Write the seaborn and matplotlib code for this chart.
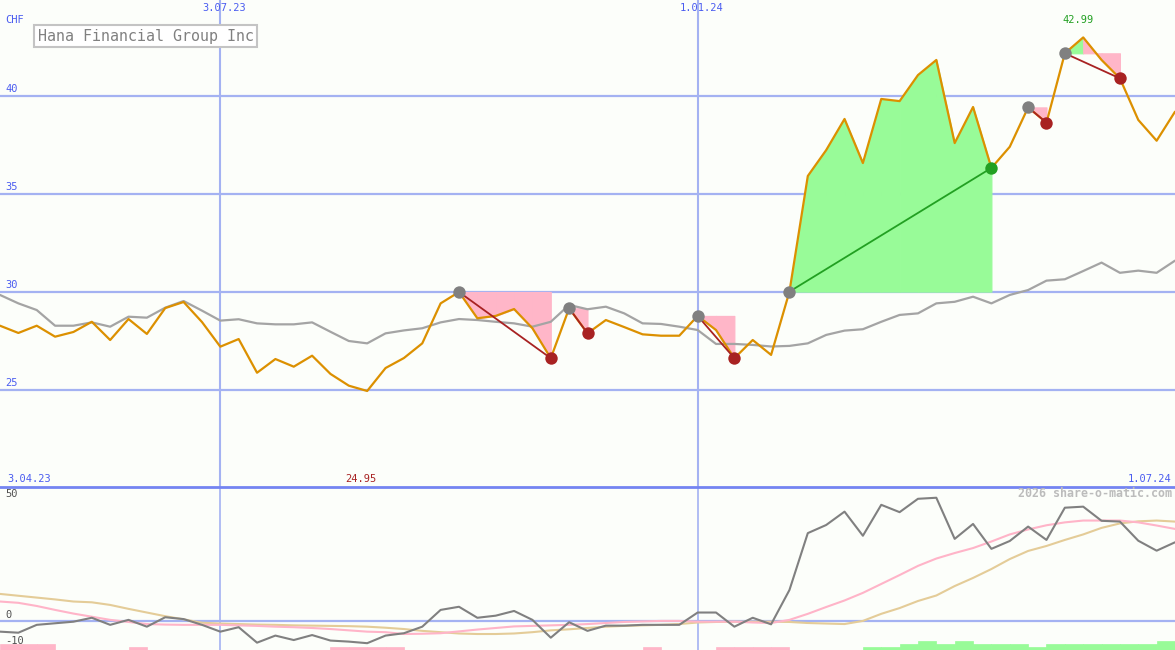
import numpy as np
import pandas as pd
import matplotlib
matplotlib.use('Agg')
import matplotlib.pyplot as plt
import seaborn as sns

# weekly closing prices (CHF), 3.04.23 .. 1.07.24
price = [28.28, 27.91, 28.28, 27.72, 27.96, 28.48, 27.55, 28.62, 27.86, 29.18,
         29.49, 28.47, 27.21, 27.60, 25.88, 26.58, 26.19, 26.75, 25.82, 25.22,
         24.95, 26.12, 26.63, 27.38, 29.42, 30.00, 28.66, 28.78, 29.13, 28.15,
         26.62, 29.17, 27.89, 28.57, 28.21, 27.84, 27.77, 27.77, 28.78, 28.06,
         26.62, 27.55, 26.79, 30.02, 35.92, 37.24, 38.83, 36.58, 39.85, 39.74,
         41.07, 41.84, 37.60, 39.44, 36.33, 37.41, 39.42, 38.64, 42.18, 42.99,
         41.84, 40.90, 38.78, 37.72, 39.20]
# moving average
avg = [29.85, 29.42, 29.08, 28.28, 28.28, 28.45, 28.23, 28.74, 28.69, 29.20,
       29.54, 29.05, 28.54, 28.61, 28.40, 28.35, 28.35, 28.45, 27.97, 27.50,
       27.38, 27.89, 28.04, 28.15, 28.45, 28.62, 28.57, 28.48, 28.40, 28.23,
       28.48, 29.34, 29.12, 29.25, 28.91, 28.40, 28.37, 28.23, 28.06, 27.35,
       27.35, 27.30, 27.22, 27.25, 27.38, 27.81, 28.03, 28.10, 28.48, 28.83,
       28.91, 29.42, 29.50, 29.76, 29.42, 29.85, 30.10, 30.58, 30.65, 31.07,
       31.50, 30.98, 31.09, 30.98, 31.60]

# lower indicator panel
osc = [-4.2, -4.6, -1.6, -1.0, -0.4, 1.1, -1.6, 0.3, -2.3, 1.3,
       0.6, -1.6, -4.2, -2.5, -8.4, -5.7, -7.4, -5.5, -7.6, -8.0,
       -8.6, -5.7, -4.8, -2.3, 4.1, 5.3, 1.1, 1.9, 3.7, 0.3,
       -6.5, -0.6, -3.9, -1.9, -1.9, -1.6, -1.6, -1.6, 3.1, 3.1,
       -2.3, 1.1, -1.4, 11.7, 33.4, 36.5, 41.6, 32.4, 44.2, 41.4,
       46.5, 46.9, 31.2, 36.9, 27.4, 30.4, 35.9, 30.8, 43.1, 43.5,
       38.1, 37.8, 30.5, 26.7, 29.9]
fast = [7.3, 6.8, 5.6, 4.1, 2.7, 1.5, 0.3, -0.5, -1.3, -1.5,
        -1.6, -1.6, -1.6, -1.8, -2.0, -2.3, -2.5, -2.8, -3.2, -3.7,
        -4.2, -4.4, -5.1, -5.0, -4.8, -4.1, -3.4, -2.8, -2.2, -2.0,
        -1.8, -1.6, -1.3, -0.9, -0.5, -0.3, -0.1, -0.1, -0.4, -0.4,
        -0.4, -0.7, -0.9, 0.3, 2.6, 5.2, 7.7, 10.6, 14.0, 17.4,
        20.9, 23.7, 25.8, 27.7, 30.2, 32.9, 34.8, 36.4, 37.5, 38.2,
        38.2, 38.2, 37.5, 36.3, 35.0]
slow = [10.2, 9.5, 8.8, 8.1, 7.3, 7.0, 6.0, 4.5, 3.1, 1.7,
        0.5, -0.8, -1.1, -1.3, -1.5, -1.6, -1.8, -1.9, -2.0, -2.1,
        -2.3, -2.7, -3.2, -3.9, -4.4, -4.9, -5.1, -5.1, -4.9, -4.4,
        -3.7, -3.3, -2.8, -2.3, -2.0, -1.8, -1.6, -1.3, -0.7, -0.5,
        -0.4, -0.4, -0.4, -0.5, -0.9, -1.1, -1.3, -0.1, 2.6, 4.8,
        7.5, 9.6, 13.2, 16.3, 19.7, 23.5, 26.6, 28.5, 30.8, 32.9,
        35.4, 37.1, 37.9, 38.2, 37.8]
# weekly signal bars (green > 0, pink < 0)
signal = [-2.3, -2.3, -2.3, 0, 0, 0, 0, -1.25, 0, 0,
          0, 0, 0, 0, 0, 0, 0, 0, -1.0, -1.0,
          -1.0, -1.0, 0, 0, 0, 0, 0, 0, 0, 0,
          0, 0, 0, 0, 0, -1.25, 0, 0, 0, -1.0,
          -1.0, -1.0, -1.0, 0, 0, 0, 0, 1.0, 1.0, 2.3,
          3.4, 2.3, 3.4, 2.3, 2.3, 2.3, 1.0, 2.3, 2.3, 2.3,
          2.3, 2.3, 2.3, 3.4]

# trades: entry week, exit week
entries = [25, 31, 38, 43, 56, 58]
exits = [30, 32, 40, 54, 57, 61]

date_ticks = [12, 38]
date_labels = ['3.07.23', '1.01.24']
price_levels = [25, 30, 35, 40]

weeks = np.arange(len(price))
df = pd.DataFrame({'week': weeks, 'price': price, 'avg': avg,
                   'osc': osc, 'fast': fast, 'slow': slow})

BG = '#fcfefa'
GRID = '#a4b2f2'
BLUE = '#4a5cf0'
ORANGE = '#dc9000'
PINK = '#ffb6c8'
GREEN = '#98fb98'
RED = '#a82222'
DGREEN = '#22a022'

sns.set_style('white')
plt.rcParams['font.family'] = ['DejaVu Sans Mono']

fig = plt.figure(figsize=(11.75, 6.5), dpi=100, facecolor=BG)
ax1 = fig.add_axes([0, 163 / 650, 1, 487 / 650], facecolor=BG)
ax2 = fig.add_axes([0, 0, 1, 163 / 650], facecolor=BG)

# ---- price panel
for lv in price_levels:
    ax1.axhline(lv, color=GRID, lw=1.6, zorder=1)
    ax1.text(0.27, lv + 0.12, str(lv), color=BLUE, fontsize=7.5, va='bottom', ha='left')
for t in date_ticks:
    ax1.axvline(t, color=GRID, lw=1.5, zorder=1)
    ax2.axvline(t, color=GRID, lw=1.2, zorder=1)

for a, b in zip(entries, exits):
    lvl = price[a]
    for k in range(a, b):
        c = GREEN if price[k + 1] >= lvl else PINK
        ax1.fill_between(weeks[k:k + 2], lvl, price[k:k + 2], facecolor=c,
                         edgecolor=c, lw=0.8, zorder=2)

sns.lineplot(data=df, x='week', y='avg', ax=ax1, color='#a4a4a4', lw=1.6, zorder=3)
sns.lineplot(data=df, x='week', y='price', ax=ax1, color=ORANGE, lw=1.6, zorder=4)

for a, b in zip(entries, exits):
    win = price[b] > price[a]
    ax1.plot([a, b], [price[a], price[b]], color=DGREEN if win else RED, lw=1.3, zorder=5)
    sns.scatterplot(x=[a], y=[price[a]], ax=ax1, color='#808080', s=80, linewidth=0, zorder=6)
    sns.scatterplot(x=[b], y=[price[b]], ax=ax1, color=DGREEN if win else RED, s=80,
                    linewidth=0, zorder=6)

imax = int(np.argmax(price))
imin = int(np.argmin(price))
ax1.text(imax - 0.3, 43.9, f'{price[imax]:.2f}', color=DGREEN, fontsize=7.5, ha='center', va='center')
ax1.text(imin - 0.35, 20.46, f'{price[imin]:.2f}', color=RED, fontsize=7.5, ha='center', va='center')
ax1.text(0.4, 20.46, '3.04.23', color=BLUE, fontsize=7.5, ha='left', va='center')
ax1.text(63.8, 20.46, '1.07.24', color=BLUE, fontsize=7.5, ha='right', va='center')
for t, lab in zip(date_ticks, date_labels):
    ax1.text(t + 0.2, 44.48, lab, color=BLUE, fontsize=7.5, ha='center', va='center')
ax1.text(0.27, 43.88, 'CHF', color=BLUE, fontsize=7.5, ha='left', va='center')
ax1.text(2.05, 43.06, 'Hana Financial Group Inc', color='#808080', fontsize=10.8,
         ha='left', va='center',
         bbox=dict(boxstyle='square,pad=0.25', fc='white', ec='#c4c4c4', lw=1.5))

ax1.set_xlim(0, 64)
ax1.set_ylim(20.05, 44.9)

# ---- indicator panel
ax2.axhline(0, color=GRID, lw=1.6, zorder=1)
bar_col = [GREEN if s > 0 else PINK for s in signal]
ax2.bar(weeks[:-1], np.abs(signal), width=1.0, align='edge', bottom=-11.2,
        color=bar_col, edgecolor=bar_col, lw=0.5, zorder=2)
sns.lineplot(data=df, x='week', y='slow', ax=ax2, color='#e4cc98', lw=1.5, zorder=3)
sns.lineplot(data=df, x='week', y='fast', ax=ax2, color='#ffb4c8', lw=1.5, zorder=3)
sns.lineplot(data=df, x='week', y='osc', ax=ax2, color='#808080', lw=1.5, zorder=4)
ax2.text(0.27, 48.5, '50', color='#505050', fontsize=7.5, ha='left', va='center')
ax2.text(0.27, 2.2, '0', color='#505050', fontsize=7.5, ha='left', va='center')
ax2.text(0.27, -7.6, '-10', color='#505050', fontsize=7.5, ha='left', va='center')
ax2.text(63.85, 48.5, '2026 share-o-matic.com', color='#bcbcbc', fontsize=8.4,
         fontweight='bold', ha='right', va='center')
ax2.set_xlim(0, 64)
ax2.set_ylim(-11.2, 51.0)

for ax in (ax1, ax2):
    ax.set_xticks([])
    ax.set_yticks([])
    ax.set_xlabel('')
    ax.set_ylabel('')
    for s in ax.spines.values():
        s.set_visible(False)
ax2.spines['top'].set_visible(True)
ax2.spines['top'].set_color('#7484f2')
ax2.spines['top'].set_linewidth(2)

fig.savefig('out.png', dpi=100, facecolor=BG)
